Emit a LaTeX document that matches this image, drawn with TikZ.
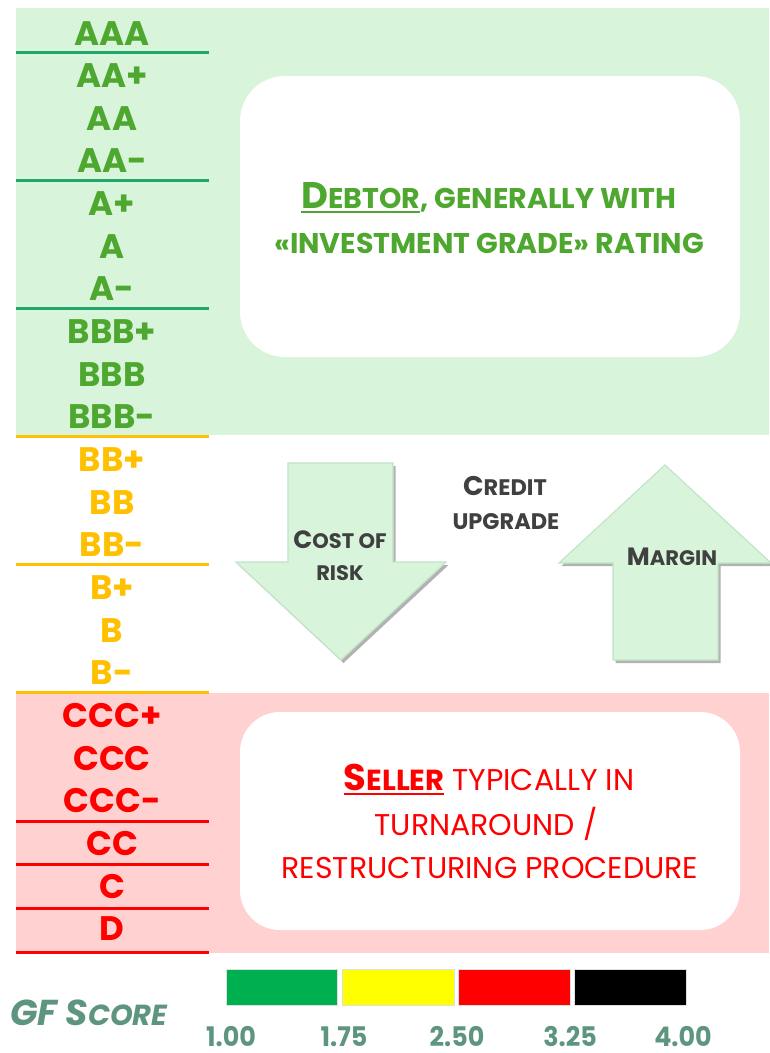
\documentclass[tikz,border=0pt]{standalone}
\usepackage{fontspec}
\setmainfont{Poppins}
\newfontfamily\tw{Poppins}
\newfontfamily\twn[FakeStretch=0.94]{Poppins}
\usetikzlibrary{shadows}
\definecolor{gbg}{HTML}{D8F5DC}
\definecolor{gtext}{HTML}{4EA72E}
\definecolor{gline}{HTML}{1FA86A}
\definecolor{ylw}{HTML}{FFC000}
\definecolor{rd}{HTML}{FF0000}
\definecolor{pbg}{HTML}{FFD1D1}
\definecolor{gfc}{HTML}{5E957F}
\definecolor{dgrey}{HTML}{404040}
\definecolor{abord}{HTML}{C2E4C8}
\definecolor{barg}{HTML}{00B050}
\definecolor{bary}{HTML}{FFFF00}
\newcommand\fsz[1]{\fontsize{#1}{#1}\selectfont}
\newcommand\myul[1]{\setbox0\hbox{#1}\rlap{\rule[-5pt]{\wd0}{2.2pt}}\box0}
\begin{document}
\begin{tikzpicture}[x=1pt,y=-1pt,
  rate/.style={anchor=base,inner sep=0pt,font=\tw\bfseries\fsz{34}},
  sep/.style={line width=3pt},
  whitebox/.style={fill=white,draw=none},
  bigarrow/.style={fill=gbg,draw=abord,line width=1.2pt,
    drop shadow={shadow xshift=2.5pt,shadow yshift=-3pt,fill=black,opacity=0.3}},
  lbl/.style={anchor=base,inner sep=0pt,text=dgrey,font=\tw\bfseries},
  bar/.style={draw=gray!25,line width=0.6pt},
  num/.style={anchor=base,inner sep=0pt,text=gfc,font=\twn\bfseries\fsz{27}}]
\useasboundingbox[fill=white] (0,0) rectangle (769,1053);
% bands
\fill[gbg] (16,8) rectangle (769,435);
\fill[pbg] (16,693) rectangle (769,953);
% separators
\foreach \y in {52,180,308} \draw[sep,gline] (16,\y) -- (209,\y);
\foreach \y in {436,564,692} \draw[sep,ylw] (16,\y) -- (209,\y);
\foreach \y in {821,864,908,952} \draw[sep,rd] (16,\y) -- (209,\y);
% ratings
\foreach \t [count=\i from 0] in {AAA,AA+,AA,AA-,A+,A,A-,BBB+,BBB,BBB-}
  \node[rate,text=gtext] (r\i) at (112,45+42.65*\i) {\t};
\foreach \t [count=\i from 10] in {BB+,BB,BB-,B+,B,B-}
  \node[rate,text=ylw] (r\i) at (112,45+42.65*\i) {\t};
\foreach \t [count=\i from 16] in {CCC+,CCC,CCC-,CC,C,D}
  \node[rate,text=rd] (r\i) at (112,45+42.65*\i) {\t};
% upper box
\fill[whitebox,rounded corners=45pt] (240,76) rectangle (740,357);
\node[anchor=base,inner sep=0pt,text=gtext,font=\tw\bfseries] (debtor1) at (489,208)
  {\myul{\fsz{37}D\fsz{28.5}EBTOR}\fsz{28.5}, GENERALLY WITH};
\node[anchor=base,inner sep=0pt,text=gtext,font=\tw\bfseries\fsz{28.5}] (debtor2) at (489,253)
  {«INVESTMENT GRADE» RATING};
% arrows
\draw[bigarrow] (288,463) -- (393,463) -- (393,562) -- (446,562) -- (341,660)
  -- (236,562) -- (288,562) -- cycle;
\draw[bigarrow] (665,465) -- (771,563) -- (718,563) -- (718,660) -- (613,660)
  -- (613,563) -- (559,563) -- cycle;
\node[lbl] (cost) at (340,548) {\fsz{25}C\fsz{21}OST OF};
\node[lbl] (risk) at (340,580) {\fsz{21}RISK};
\node[lbl] (credit) at (505,495) {\fsz{27}C\fsz{22.5}REDIT};
\node[lbl] (upgrade) at (506,529) {\fsz{22.5}UPGRADE};
\node[lbl] (margin) at (672,565) {\fsz{25}M\fsz{21}ARGIN};
% lower box
\fill[whitebox,rounded corners=40pt] (240,712) rectangle (740,930);
\node[anchor=base,inner sep=0pt,text=rd,font=\tw] (seller1) at (489,790)
  {\myul{\bfseries\fsz{37}S\fsz{29}ELLER}\fsz{30} TYPICALLY IN};
\node[anchor=base,inner sep=0pt,text=rd,font=\tw\fsz{30}] (seller2) at (486,835)
  {TURNAROUND /};
\node[anchor=base,inner sep=0pt,text=rd,font=\tw\fsz{30}] (seller3) at (490,878)
  {RESTRUCTURING PROCEDURE};
% score
\node[anchor=base west,inner sep=0pt,text=gfc,font=\tw\bfseries\itshape] (gf) at (10,1025)
  {\fsz{36}GF S\fsz{29}CORE};
\draw[bar,fill=barg] (226,969) rectangle (337,1005);
\draw[bar,fill=bary] (342,969) rectangle (454,1005);
\draw[bar,fill=rd] (458,969) rectangle (570,1005);
\draw[bar,fill=black] (574,969) rectangle (686,1005);
\node[num] (n1) at (231,1046) {1.00};
\node[num] (n2) at (344,1046) {1.75};
\node[num] (n3) at (457,1046) {2.50};
\node[num] (n4) at (570,1046) {3.25};
\node[num] (n5) at (683,1046) {4.00};
\end{tikzpicture}
\end{document}
